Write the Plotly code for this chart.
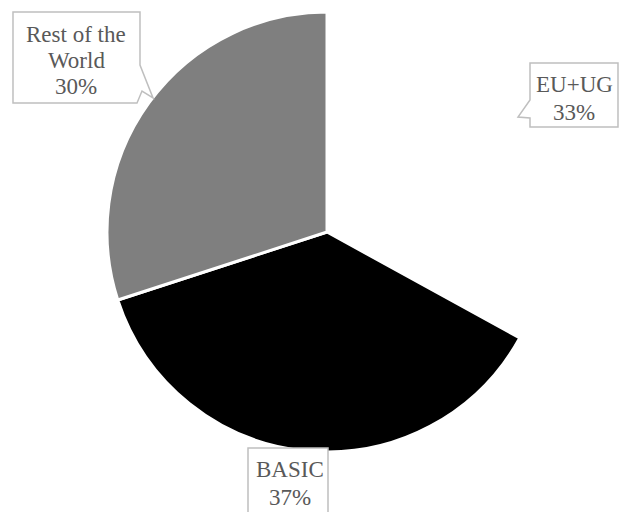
import plotly.graph_objects as go

categories = ["EU+UG", "BASIC", "Rest of the World"]
values = [33, 37, 30]
colors = ["#FFFFFF", "#000000", "#7F7F7F"]
label_lines = [["EU+UG", "33%"], ["BASIC", "37%"], ["Rest of the", "World", "30%"]]

W, H = 619, 512

def px(x, y):
    return x / W, 1 - y / H

def path(points):
    pts = [px(x, y) for x, y in points]
    return "M " + " L ".join(f"{a:.5f},{b:.5f}" for a, b in pts) + " Z"

fig = go.Figure(go.Pie(
    labels=categories,
    values=values,
    sort=False,
    direction="clockwise",
    rotation=0,
    marker=dict(colors=colors, line=dict(color="#FFFFFF", width=3)),
    textinfo="none",
    hoverinfo="label+percent",
    showlegend=False,
    domain=dict(x=[107 / W, 547 / W], y=[1 - 452 / H, 1 - 12 / H]),
))

border = "#BFBFBF"
callouts = [
    # Rest of the World
    [(13, 12), (140, 12), (140, 65), (153, 98), (142, 91), (137, 103), (13, 103)],
    # EU+UG
    [(530, 63), (618, 63), (618, 127), (530, 127), (530, 118), (518, 117), (530, 100)],
    # BASIC
    [(248, 448), (328, 448), (328, 530), (248, 530)],
]
shapes = []
for pts in callouts:
    shapes.append(dict(type="path", xref="paper", yref="paper", path=path(pts),
                       line=dict(color=border, width=1.5), fillcolor="white", layer="above"))

# (center x, first baseline y, line spacing) of each label, in pixels
label_pos = [(574, 92, 28), (290, 477, 28), (76, 42, 26)]
annotations = []
for lines, (cx, by, sp) in zip(label_lines, label_pos):
    for i, line in enumerate(lines):
        x, y = px(cx, by + i * sp - 8)
        annotations.append(dict(x=x, y=y, xref="paper", yref="paper", text=line, showarrow=False,
                                xanchor="center", yanchor="middle", align="center",
                                font=dict(family="Liberation Serif", size=23, color="#595959")))

fig.update_layout(
    width=W, height=H,
    margin=dict(l=0, r=0, t=0, b=0),
    paper_bgcolor="white", plot_bgcolor="white",
    shapes=shapes, annotations=annotations,
)

fig.write_html("out.html", config={"displayModeBar": False},
               post_script="document.body.style.margin='0';document.body.style.overflow='hidden';")
